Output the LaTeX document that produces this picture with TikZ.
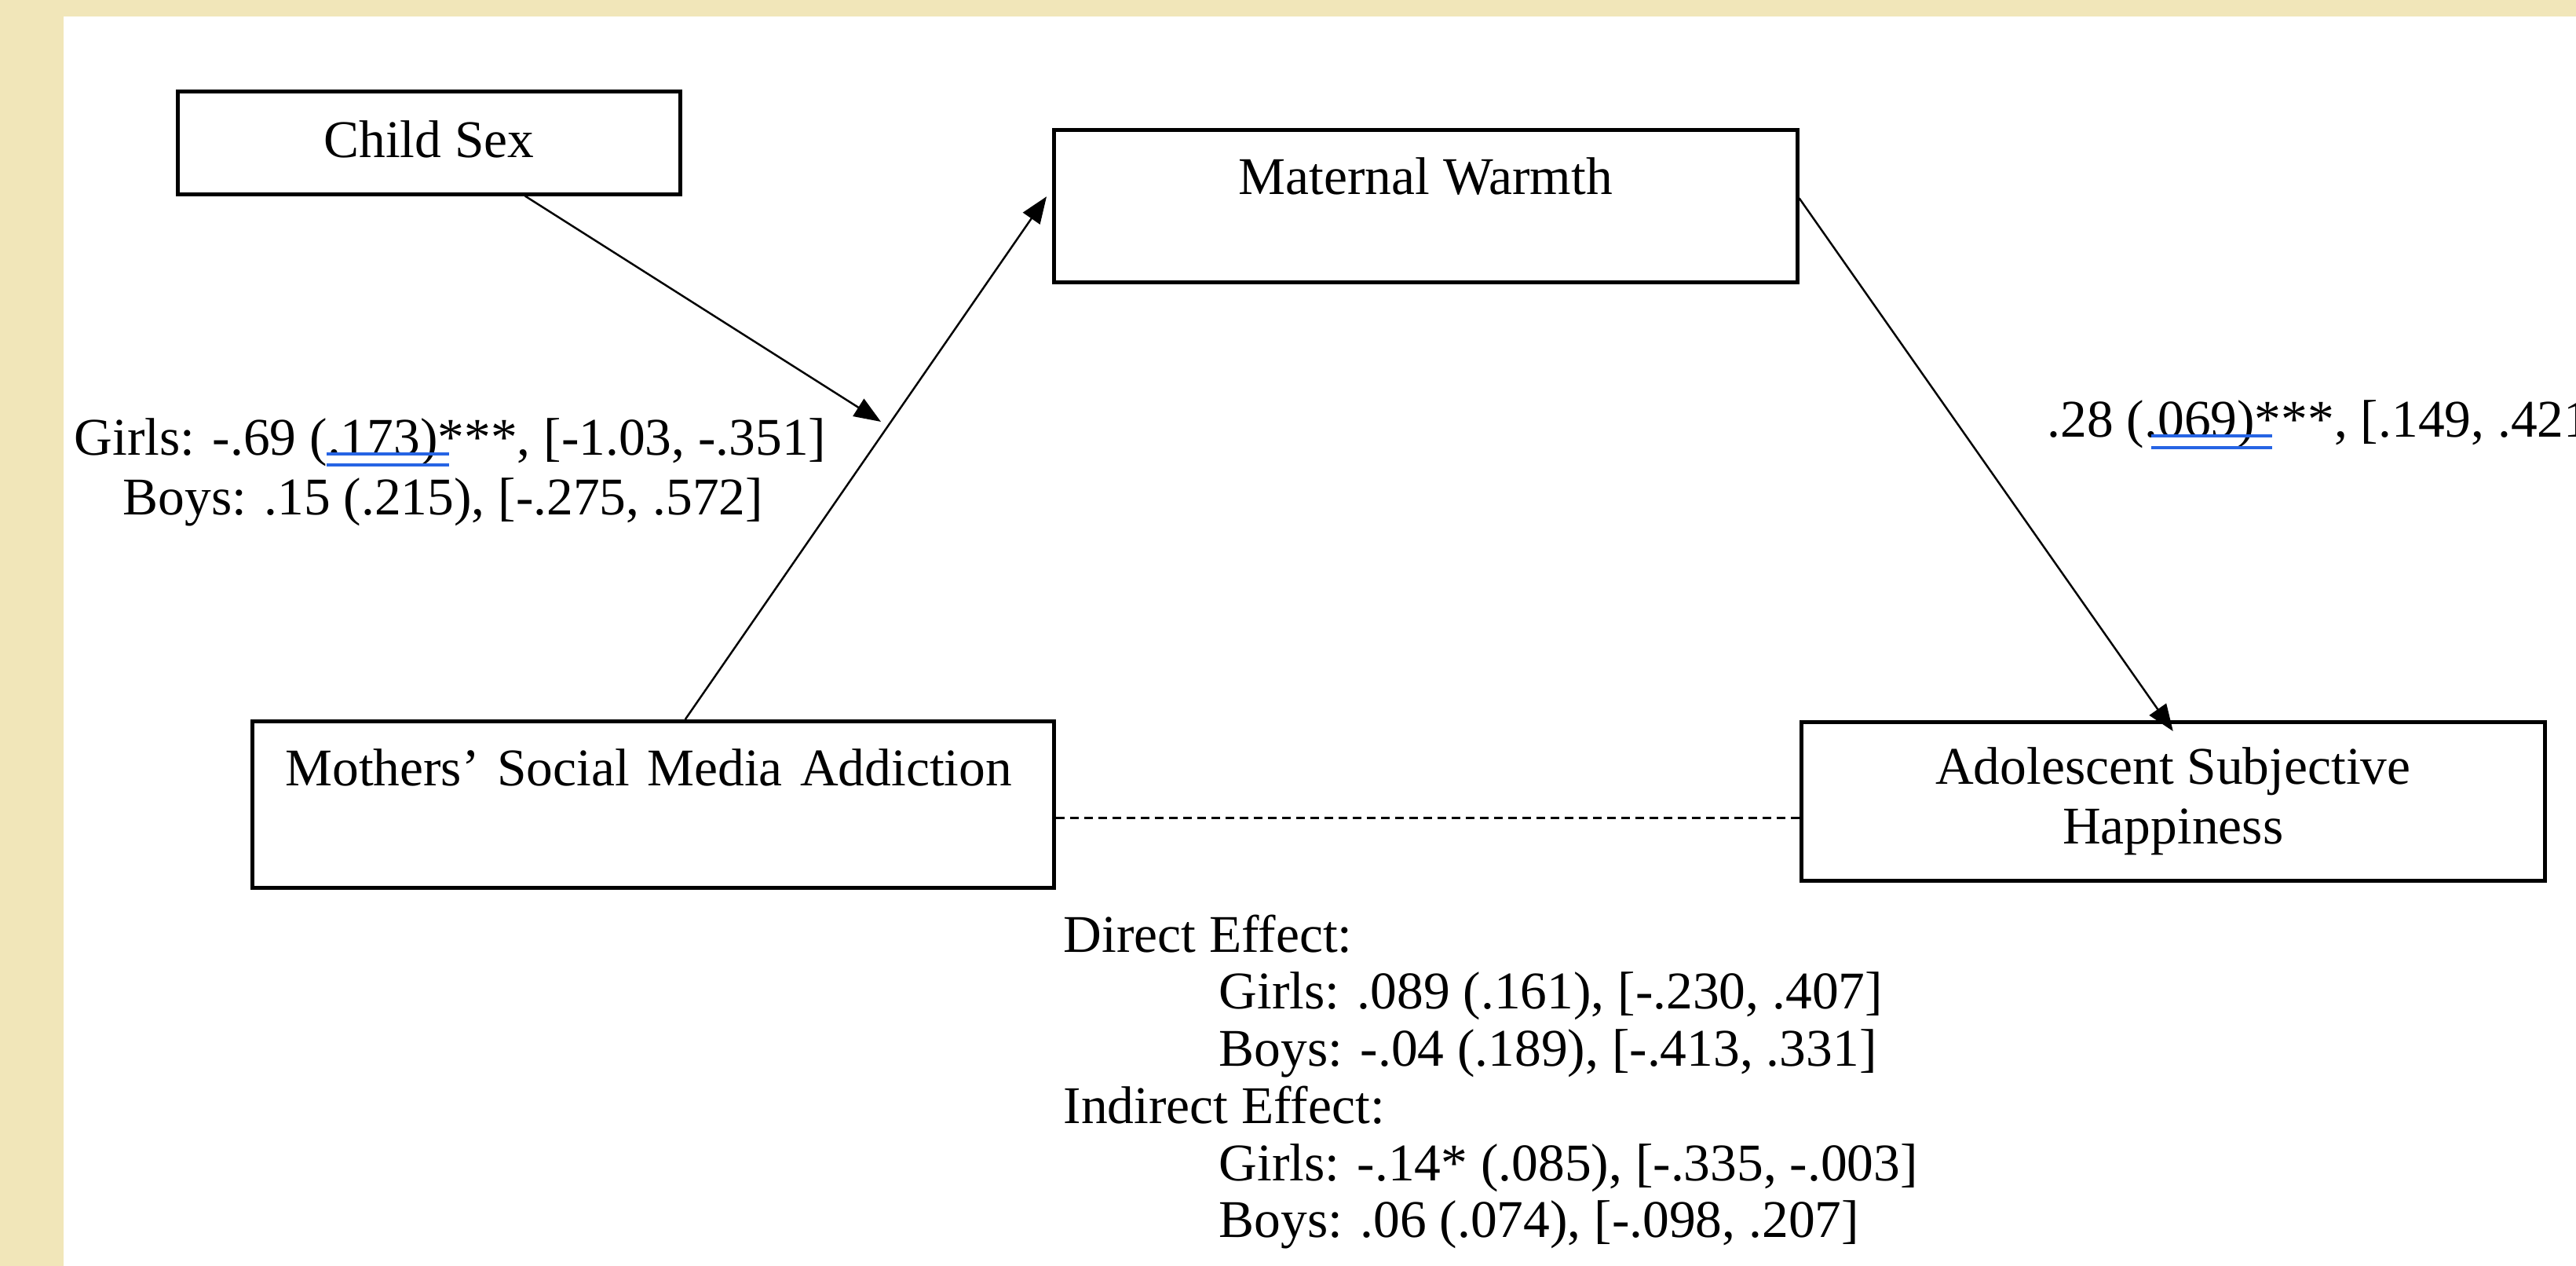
\documentclass[tikz,border=0pt]{standalone}
\usepackage{fontspec}
\setmainfont{Liberation Serif}
\usetikzlibrary{arrows.meta,calc}
\definecolor{pagebeige}{RGB}{241,230,185}
\definecolor{checkblue}{RGB}{38,100,228}

\begin{document}
\begin{tikzpicture}[
    every node/.style={font=\fontsize{19.2}{21.6}\selectfont, inner sep=0pt},
    varbox/.style={draw, line width=1.3pt, anchor=north west},
    path/.style={line width=0.7pt, -{Triangle[length=0.34cm,width=0.26cm]}},
    dashline/.style={line width=0.7pt, dash pattern=on 0.11cm off 0.07cm},
    checkline/.style={checkblue, line width=1.1pt}
]
    \useasboundingbox (0,0) rectangle (32.81,-16.12);
    \fill[white] (0,0) rectangle (32.81,-16.12);
    \fill[pagebeige] (0,0) rectangle (32.81,-0.21);
    \fill[pagebeige] (0,0) rectangle (0.81,-16.12);
    \clip (0,0) rectangle (32.81,-16.12);

    \node[varbox, minimum width=6.40cm, text height=0.84cm, text depth=0.47cm] (cs) at (2.24,-1.14) {Child Sex};
    \node[varbox, minimum width=9.47cm, text height=0.82cm, text depth=1.12cm] (mw) at (13.40,-1.63) {Maternal Warmth};
    \node[varbox, text width=9.37cm, inner xsep=0.42cm, align=left, text height=0.82cm, text depth=1.30cm] (msm) at (3.19,-9.16) {Mothers’ Social Media Addiction};
    \node[varbox, minimum width=9.47cm, align=center, text height=1.55cm, text depth=0.47cm] (ash) at (22.92,-9.17) {Adolescent Subjective\\Happiness};

    \coordinate (mod) at (11.22,-5.37);

    \draw[path] ($(cs.south west)!0.69!(cs.south east)$) -- (mod);
    \draw[path] ($(msm.north west)!0.54!(msm.north east)$) -- ([xshift=-0.07cm,yshift=0.12cm]mw.west);
    \draw[path] ([yshift=0.10cm]mw.east) -- ([yshift=-0.14cm]ash.north);
    \draw[dashline] ([yshift=-0.17cm]msm.east) -- ([yshift=-0.21cm]ash.west);

    \node[anchor=base west] (girlsA) at (0.94,-5.80) {Girls: -.69 (.173)***, [-1.03, -.351]};
    \node[anchor=base west] (boysA) at (1.56,-6.56) {Boys: .15 (.215), [-.275, .572]};
    \node[anchor=base west] (pathB) at (26.07,-5.57) {.28 (.069)***, [.149, .421]};

    \draw[checkline] (4.16,-5.78) -- (5.72,-5.78);
    \draw[checkline] (4.16,-5.92) -- (5.72,-5.92);
    \draw[checkline] (27.40,-5.55) -- (28.94,-5.55);
    \draw[checkline] (27.40,-5.70) -- (28.94,-5.70);

    \node[anchor=base west, align=left, font=\fontsize{19.2}{20.7}\selectfont] (effects) at (13.54,-15.76) {Direct Effect:\\
        \hspace*{1.98cm}Girls: .089 (.161), [-.230, .407]\\
        \hspace*{1.98cm}Boys: -.04 (.189), [-.413, .331]\\
        Indirect Effect:\\
        \hspace*{1.98cm}Girls: -.14* (.085), [-.335, -.003]\\
        \hspace*{1.98cm}Boys: .06 (.074), [-.098, .207]};
\end{tikzpicture}
\end{document}
